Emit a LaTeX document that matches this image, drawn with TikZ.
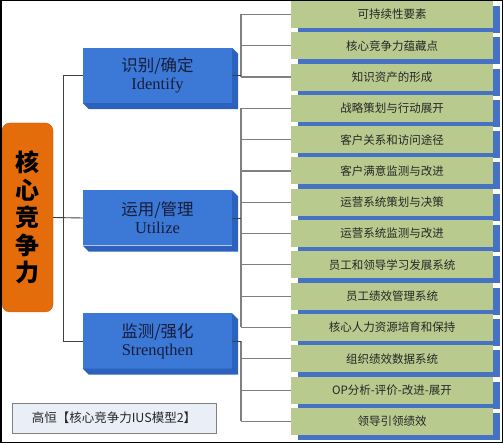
\documentclass[tikz,border=0pt]{standalone}
\usepackage{fontspec}
\setmainfont{Liberation Serif}
\newfontfamily\cjk{Noto Sans CJK SC}
\usepackage{tikz}
\usetikzlibrary{positioning,shadows,calc}

\definecolor{coreorange}{RGB}{228,108,10}
\definecolor{boxblue}{RGB}{60,120,214}
\definecolor{boxside}{RGB}{44,98,190}
\definecolor{leafgreen}{RGB}{184,202,142}
\definecolor{leafblue}{RGB}{70,114,196}
\definecolor{textnavy}{RGB}{22,30,60}
\definecolor{notefill}{RGB}{234,238,246}

\begin{document}
\begin{tikzpicture}[
  x=1pt, y=-1pt,
  core/.style={rectangle, rounded corners=8pt, draw=coreorange!85!black, fill=coreorange, minimum width=51pt, minimum height=189pt, align=center, font=\cjk\bfseries\fontsize{24}{27.5}\selectfont},
  group/.style={rectangle, fill=boxblue, minimum width=149pt, minimum height=55pt, inner sep=0pt, align=center, text=textnavy, font=\fontsize{16.5}{18}\selectfont},
  leaf/.style={rectangle, fill=leafgreen, minimum width=202pt, minimum height=27pt, inner sep=0pt, text=black!85, font=\cjk\fontsize{11.5}{14}\selectfont, general shadow={fill=leafblue, shadow xshift=7pt, shadow yshift=-5pt}},
  note/.style={rectangle, draw=black!50, fill=notefill, minimum width=204pt, minimum height=30pt, font=\cjk\fontsize{12.5}{15}\selectfont, text=black!85},
  trunk/.style={draw=black!75, line width=0.9pt},
  branch/.style={draw=black!50, line width=1.2pt}
]
  \useasboundingbox (0,0) rectangle (503,443);

  % centre
  \node[core] (core) at (27.5,217.5) {核\\心\\竞\\争\\力};

  % three groups
  \node[group] (idn) at (157.5,75.5) {{\cjk 识别/确定}\\Identify};
  \node[group] (uti) at (157.5,218) {{\cjk 运用/管理}\\Utilize};
  \node[group] (str) at (157.5,341) {{\cjk 监测/强化}\\Strenqthen};
  \foreach \g in {idn,uti,str}
    \fill[boxside] (\g.south west) -- ++(6,6) -- ($(\g.south east)+(6,6)$)
      -- ($(\g.north east)+(6,6)$) -- (\g.north east) -- (\g.south east) -- cycle;

  % leaves
  \foreach \t [count=\i] in {可持续性要素, 核心竞争力蕴藏点, 知识资产的形成,
      战略策划与行动展开, 客户关系和访问途径, 客户满意监测与改进,
      运营系统策划与决策, 运营系统监测与改进, 员工和领导学习发展系统,
      员工绩效管理系统, 核心人力资源培育和保持, 组织绩效数据系统,
      OP分析-评价-改进-展开, 领导引领绩效}
    \node[leaf] (g\i) at (392,{14.5+(\i-1)*31.3}) {\t};

  \node[note] (note) at (114,418) {高恒【核心竞争力IUS模型2】};

  % left tree
  \coordinate (lt) at (63,0);
  \draw[trunk] (core.east) -- (uti.west);
  \draw[trunk] (idn.west) -- (idn.west -| lt) -- (str.west -| lt) -- (str.west);

  % right trees
  \coordinate (rt) at (241,0);
  \foreach \i in {1,...,14}
    \draw[branch] (g\i.west) -- (g\i.west -| rt);
  \draw[branch] (g1.west -| rt) -- (g3.west -| rt);
  \draw[branch] (g4.west -| rt) -- (g11.west -| rt);
  \draw[branch] (str.east -| rt) -- (g14.west -| rt);
  \foreach \g in {idn,uti,str}
    \draw[trunk] (\g.east) -- (\g.east -| rt);

  % frame
  \draw[black, line width=1.5pt] (0.75,0.75) rectangle (502.25,442.25);
\end{tikzpicture}
\end{document}
